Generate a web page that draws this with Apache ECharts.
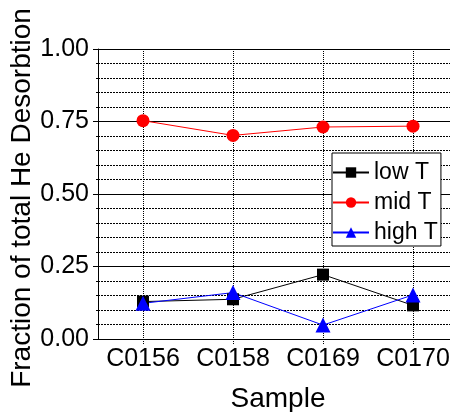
<!DOCTYPE html>
<html><head><meta charset="utf-8">
<script src="https://cdn.jsdelivr.net/npm/echarts@6/dist/echarts.min.js"></script>
<style>html,body{margin:0;padding:0;background:#fff}#c{width:450px;height:412px}</style>
</head><body><div id="c"></div>
<script>
const categories = ['C0156', 'C0158', 'C0169', 'C0170'];
const lowT = [0.129, 0.137, 0.222, 0.116];
const midT = [0.753, 0.702, 0.731, 0.734];
const highT = [0.123, 0.160, 0.048, 0.152];
const seriesNames = ['low T', 'mid T', 'high T'];

const font = '"Liberation Sans", Arial, sans-serif';
const chart = echarts.init(document.getElementById('c'), null, {renderer: 'canvas'});
function mk(name, data, color, symbol, size) {
  return {
    name, type: 'line', data, symbol, symbolSize: size,
    itemStyle: {color}, lineStyle: {color, width: 1}, animation: false
  };
}
chart.setOption({
  animation: false,
  backgroundColor: '#fff',
  textStyle: {fontFamily: font},
  grid: {left: 98, top: 49, width: 360, height: 290, containLabel: false, outerBoundsMode: 'none'},
  legend: {
    orient: 'vertical', left: 332, top: 153,
    data: seriesNames,
    itemWidth: 36, itemHeight: 13, itemGap: 7, itemTextGap: 7,
    padding: [8, 3, 2, 0],
    borderColor: '#000', borderWidth: 1, backgroundColor: '#fff',
    textStyle: {fontSize: 23, color: '#000', fontFamily: font, lineHeight: 23}
  },
  xAxis: {
    type: 'category', data: categories, boundaryGap: true,
    name: 'Sample', nameLocation: 'middle', nameGap: 46, nameMoveOverlap: false,
    nameTextStyle: {fontSize: 28, color: '#000', fontFamily: font},
    axisLine: {lineStyle: {color: '#000', width: 1}},
    axisTick: {show: true, interval: 0, alignWithLabel: true, length: 5, lineStyle: {color: '#000', type: [1, 1]}},
    axisLabel: {interval: 0, fontSize: 25, color: '#000', margin: 8, fontFamily: font},
    splitLine: {show: true, interval: 0, alignWithLabel: true, lineStyle: {color: '#000', type: [1, 1], width: 1}}
  },
  yAxis: {
    type: 'value', min: 0, max: 1, interval: 0.25,
    name: 'Fraction of total He Desorbtion', nameLocation: 'middle', nameGap: 62, nameMoveOverlap: false,
    nameTextStyle: {fontSize: 28, color: '#000', fontFamily: font, padding: [0, 8, 0, 0]},
    axisLine: {show: true, lineStyle: {color: '#000', width: 1}},
    axisTick: {show: true, length: 5, lineStyle: {color: '#000'}},
    minorTick: {show: true, splitNumber: 5, length: 3, lineStyle: {color: '#000', type: [2, 1]}},
    axisLabel: {fontSize: 25, color: '#000', margin: 9, fontFamily: font,
      formatter: v => v.toFixed(2)},
    splitLine: {show: true, lineStyle: {color: '#000', width: 1}},
    minorSplitLine: {show: true, lineStyle: {color: '#000', type: [2, 1], width: 1}}
  },
  series: [
    mk(seriesNames[0], lowT, '#000000', 'rect', 12),
    mk(seriesNames[1], midT, '#ff0000', 'circle', 13),
    mk(seriesNames[2], highT, '#0000ff', 'triangle', 15)
  ]
});
</script></body></html>
